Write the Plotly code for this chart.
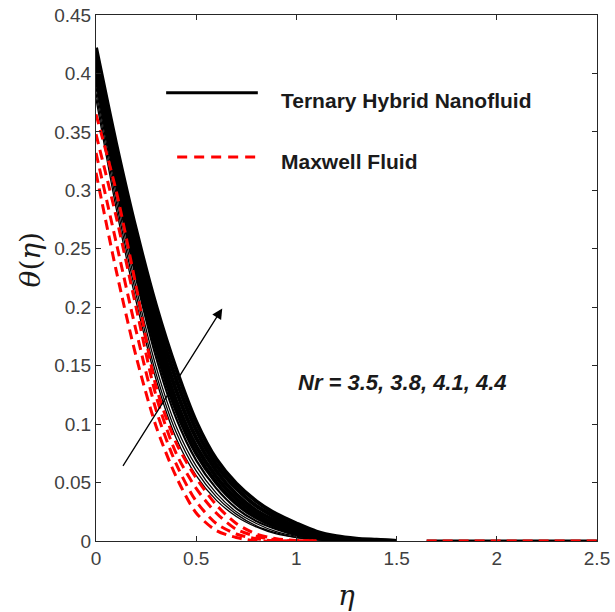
import plotly.graph_objects as go

# ---- data ----
eta_black = [0, 0.1, 0.2, 0.3, 0.4, 0.5, 0.6, 0.7, 0.8, 0.9, 1.0, 1.1, 1.2, 1.3, 1.4, 1.5]
black_curves = [
    [0.378, 0.285, 0.205, 0.138, 0.088, 0.056, 0.035, 0.021, 0.012, 0.006, 0.003, 0.001, 0.0, 0.0, 0.0, 0.0],
    [0.383, 0.291, 0.211, 0.143, 0.093, 0.060, 0.038, 0.023, 0.013, 0.007, 0.003, 0.001, 0.0005, 0.0, 0.0, 0.0],
    [0.388, 0.297, 0.217, 0.149, 0.098, 0.064, 0.041, 0.025, 0.015, 0.008, 0.004, 0.002, 0.001, 0.0, 0.0, 0.0],
    [0.394, 0.304, 0.225, 0.157, 0.105, 0.069, 0.045, 0.028, 0.017, 0.010, 0.005, 0.002, 0.001, 0.0, 0.0, 0.0],
    [0.400, 0.311, 0.233, 0.165, 0.112, 0.075, 0.050, 0.032, 0.020, 0.012, 0.007, 0.003, 0.001, 0.0005, 0.0, 0.0],
    [0.405, 0.318, 0.241, 0.174, 0.120, 0.081, 0.055, 0.036, 0.023, 0.014, 0.008, 0.004, 0.002, 0.001, 0.0, 0.0],
    [0.411, 0.325, 0.249, 0.183, 0.129, 0.088, 0.060, 0.040, 0.026, 0.017, 0.010, 0.005, 0.002, 0.001, 0.0005, 0.0],
    [0.416, 0.332, 0.257, 0.192, 0.138, 0.095, 0.065, 0.045, 0.030, 0.020, 0.012, 0.006, 0.003, 0.001, 0.0005, 0.0],
    [0.422, 0.340, 0.266, 0.201, 0.147, 0.102, 0.070, 0.049, 0.034, 0.023, 0.015, 0.008, 0.004, 0.002, 0.001, 0.0],
]
black_widths = [1.3, 1.3, 1.3, 2.2, 4, 4, 4, 4, 4]

eta_red = [0, 0.1, 0.2, 0.3, 0.4, 0.5, 0.6, 0.7, 0.8, 0.9, 1.0, 1.1]
red_curves = [
    [0.315, 0.232, 0.158, 0.098, 0.055, 0.024, 0.009, 0.003, 0.0, 0.0, 0.0, 0.0],
    [0.332, 0.256, 0.180, 0.112, 0.066, 0.034, 0.015, 0.006, 0.002, 0.0, 0.0, 0.0],
    [0.348, 0.278, 0.200, 0.124, 0.075, 0.045, 0.024, 0.010, 0.004, 0.001, 0.0, 0.0],
    [0.365, 0.300, 0.218, 0.132, 0.084, 0.054, 0.031, 0.015, 0.006, 0.002, 0.0005, 0.0],
]

eta_tail = [1.65, 2.5]
theta_tail = [0.0, 0.0]

x_ticks = [0, 0.5, 1, 1.5, 2, 2.5]
x_labels = ["0", "0.5", "1", "1.5", "2", "2.5"]
y_ticks = [0, 0.05, 0.1, 0.15, 0.2, 0.25, 0.3, 0.35, 0.4, 0.45]
y_labels = ["0", "0.05", "0.1", "0.15", "0.2", "0.25", "0.3", "0.35", "0.4", "0.45"]

legend_names = ["Ternary Hybrid Nanofluid", "Maxwell Fluid"]
param_text = "Nr = 3.5, 3.8, 4.1, 4.4"
arrow_tail = (0.13, 0.063)
arrow_head = (0.63, 0.199)

FONT = "Arial, Liberation Sans, sans-serif"
SERIF = "DejaVu Serif, Liberation Serif, serif"
RED = "#ff0000"

fig = go.Figure()

for ys, w in zip(black_curves, black_widths):
    fig.add_trace(go.Scatter(x=eta_black, y=ys, mode="lines",
                             line=dict(color="black", width=w, shape="spline", smoothing=0.8),
                             showlegend=False, hoverinfo="skip"))

for ys in red_curves:
    fig.add_trace(go.Scatter(x=eta_red, y=ys, mode="lines",
                             line=dict(color=RED, width=3, dash="10px,6px", shape="spline", smoothing=0.8),
                             showlegend=False, hoverinfo="skip"))

fig.add_trace(go.Scatter(x=eta_tail, y=theta_tail, mode="lines",
                         line=dict(color="black", width=3), showlegend=False, hoverinfo="skip"))
fig.add_trace(go.Scatter(x=eta_tail, y=theta_tail, mode="lines",
                         line=dict(color=RED, width=3, dash="10px,6px"), showlegend=False, hoverinfo="skip"))

# manual legend (long sample lines as in the reference)
fig.add_shape(type="line", xref="paper", yref="paper", x0=0.14, x1=0.323, y0=0.852, y1=0.852,
              line=dict(color="black", width=3))
fig.add_shape(type="line", xref="paper", yref="paper", x0=0.162, x1=0.325, y0=0.730, y1=0.730,
              line=dict(color=RED, width=3, dash="10px,7px"))
fig.add_annotation(xref="paper", yref="paper", x=0.365, y=0.838, xanchor="left", yanchor="middle",
                   text="<b>" + legend_names[0] + "</b>", showarrow=False,
                   font=dict(family=FONT, size=21, color="#1a1a1a"))
fig.add_annotation(xref="paper", yref="paper", x=0.365, y=0.722, xanchor="left", yanchor="middle",
                   text="<b>" + legend_names[1] + "</b>", showarrow=False,
                   font=dict(family=FONT, size=21, color="#1a1a1a"))

fig.add_annotation(x=1.53, y=0.136, text="<b><i>" + param_text + "</i></b>", showarrow=False,
                   font=dict(family=FONT, size=22, color="#1a1a1a"))

fig.add_annotation(x=arrow_head[0], y=arrow_head[1], ax=arrow_tail[0], ay=arrow_tail[1],
                   xref="x", yref="y", axref="x", ayref="y", text="", showarrow=True,
                   arrowhead=2, arrowsize=1.6, arrowwidth=1.3, arrowcolor="black")

# y-axis label
fig.add_annotation(xref="paper", yref="paper", x=-0.13, y=0.535, xanchor="center", yanchor="middle",
                   text="<i>θ</i>(<i>η</i>)", textangle=-90, showarrow=False,
                   font=dict(family=SERIF, size=28, color="#1a1a1a"))

axis_common = dict(showline=True, linecolor="#262626", linewidth=1, mirror="ticks",
                   ticks="inside", ticklen=5, tickcolor="#262626", showgrid=False, zeroline=False,
                   tickfont=dict(family=FONT, size=19, color="#404040"))

fig.update_xaxes(range=[0, 2.5], tickvals=x_ticks, ticktext=x_labels,
                 title=dict(text="<i>η</i>", font=dict(family=SERIF, size=28, color="#1a1a1a"),
                            standoff=18), **axis_common)
fig.update_yaxes(range=[0, 0.45], tickvals=y_ticks, ticktext=y_labels, **axis_common)

fig.update_layout(width=615, height=612, margin=dict(l=96, r=18, t=15, b=71, autoexpand=False),
                  plot_bgcolor="white", paper_bgcolor="white", showlegend=False)

fig.write_html("out.html", config={"displayModeBar": False},
               post_script="document.body.style.margin='0';document.body.style.overflow='hidden';")
